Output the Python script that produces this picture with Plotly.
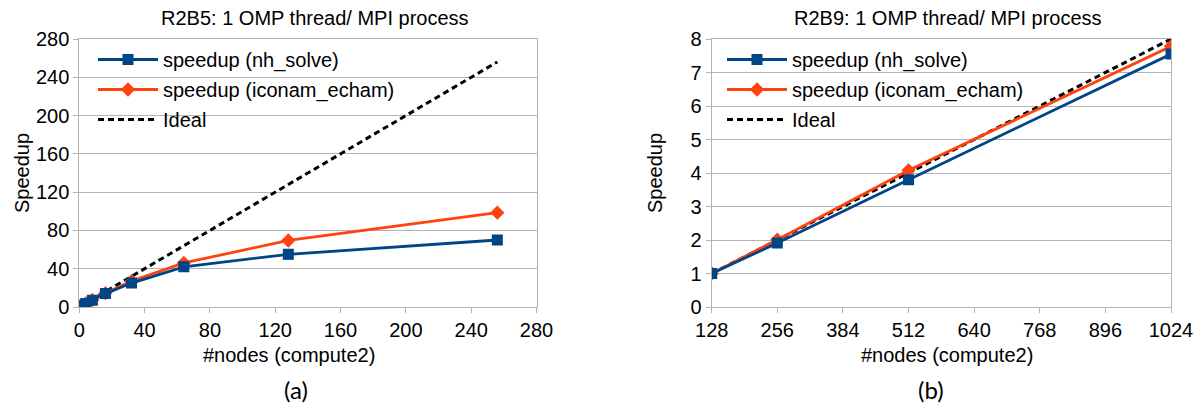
import plotly.graph_objects as go

# ---- data (a) R2B5 ----
nodes_a = [1, 2, 4, 8, 16, 32, 64, 128, 256]
nh_a = [1, 2, 3.6, 7, 14, 25, 42, 55, 70]
ic_a = [1, 2, 3.8, 7.3, 14.5, 27, 46, 69.5, 98.5]
ideal_a = [1, 2, 4, 8, 16, 32, 64, 128, 256]

# ---- data (b) R2B9 ----
nodes_b = [128, 256, 512, 1024]
nh_b = [1, 1.91, 3.8, 7.55]
ic_b = [1, 2.01, 4.08, 7.78]
ideal_b = [1, 2, 4, 8]

xticks_a = [0, 40, 80, 120, 160, 200, 240, 280]
yticks_a = [0, 40, 80, 120, 160, 200, 240, 280]
xticks_b = [128, 256, 384, 512, 640, 768, 896, 1024]
yticks_b = [0, 1, 2, 3, 4, 5, 6, 7, 8]

title_a = "R2B5: 1 OMP thread/ MPI process"
title_b = "R2B9: 1 OMP thread/ MPI process"
xtitle = "#nodes (compute2)"
ytitle = "Speedup"
names = ["speedup (nh_solve)", "speedup (iconam_echam)", "Ideal"]

BLUE = "#004586"
ORANGE = "#ff420e"
GRID = "#b3b3b3"
FONT = "Liberation Sans, Arial, sans-serif"
W, H = 1197, 406

fig = go.Figure()

def add_series(x, nh, ic, ideal, xa, ya, legend):
    fig.add_trace(go.Scatter(x=x, y=ideal, mode="lines", name=names[2],
                             line=dict(color="black", width=3, dash="6px,4px"),
                             xaxis=xa, yaxis=ya, legend=legend, legendrank=3,
                             legendgroup=legend + "c"))
    fig.add_trace(go.Scatter(x=x, y=ic, mode="lines+markers", name=names[1],
                             line=dict(color=ORANGE, width=2.8),
                             marker=dict(symbol="diamond", size=11, color=ORANGE),
                             xaxis=xa, yaxis=ya, legend=legend, legendrank=2,
                             legendgroup=legend + "b"))
    fig.add_trace(go.Scatter(x=x, y=nh, mode="lines+markers", name=names[0],
                             line=dict(color=BLUE, width=2.8),
                             marker=dict(symbol="square", size=11, color=BLUE),
                             xaxis=xa, yaxis=ya, legend=legend, legendrank=1,
                             legendgroup=legend + "a"))

add_series(nodes_a, nh_a, ic_a, ideal_a, "x", "y", "legend")
add_series(nodes_b, nh_b, ic_b, ideal_b, "x2", "y2", "legend2")

def px(x):
    return x / W

def py(y):
    return 1 - y / H

axis_common = dict(showline=True, mirror=True, linecolor=GRID, linewidth=1,
                   ticks="outside", ticklen=5, tickcolor=GRID,
                   tickfont=dict(size=20, color="#000000", family=FONT),
                   zeroline=False, automargin=False)

legend_common = dict(xanchor="left", yanchor="top", bgcolor="rgba(0,0,0,0)",
                     font=dict(size=20, family=FONT), itemwidth=60,
                     tracegroupgap=1, traceorder="grouped")

fig.update_layout(
    template="none",
    width=W, height=H,
    margin=dict(l=0, r=0, t=0, b=0, pad=0, autoexpand=False),
    paper_bgcolor="white", plot_bgcolor="white",
    font=dict(family=FONT, size=20, color="#000000"),
    xaxis=dict(domain=[px(79.3), px(536.5)], range=[0, 280], tickvals=xticks_a,
               showgrid=False, anchor="y", **axis_common),
    yaxis=dict(domain=[py(307), py(39)], range=[0, 280], tickvals=yticks_a,
               showgrid=True, gridcolor=GRID, gridwidth=1, anchor="x", **axis_common),
    xaxis2=dict(domain=[px(711.7), px(1171)], range=[128, 1024], tickvals=xticks_b,
                showgrid=False, anchor="y2", **axis_common),
    yaxis2=dict(domain=[py(307), py(39)], range=[0, 8], tickvals=yticks_b,
                showgrid=True, gridcolor=GRID, gridwidth=1, anchor="x2", **axis_common),
    legend=dict(x=px(93), y=py(40), **legend_common),
    legend2=dict(x=px(722), y=py(40), **legend_common),
)

ann = [
    dict(text=title_a, x=px(315), y=py(18), xanchor="center", yanchor="middle", font=dict(size=20)),
    dict(text=title_b, x=px(948), y=py(18), xanchor="center", yanchor="middle", font=dict(size=20)),
    dict(text=xtitle, x=px(289), y=py(355), xanchor="center", yanchor="middle", font=dict(size=20)),
    dict(text=xtitle, x=px(947), y=py(355), xanchor="center", yanchor="middle", font=dict(size=20)),
    dict(text=ytitle, x=px(22), y=py(173), xanchor="center", yanchor="middle", textangle=-90, font=dict(size=20)),
    dict(text=ytitle, x=px(655), y=py(173), xanchor="center", yanchor="middle", textangle=-90, font=dict(size=20)),
    dict(text="(a)", x=px(296), y=py(389), xanchor="center", yanchor="middle", font=dict(size=24, family="Lato, Carlito, sans-serif")),
    dict(text="(b)", x=px(931), y=py(389), xanchor="center", yanchor="middle", font=dict(size=24, family="Lato, Carlito, sans-serif")),
]
for a in ann:
    a.update(xref="paper", yref="paper", showarrow=False)
    fig.add_annotation(**a)

fig.write_html("out.html",
               config={"displayModeBar": False},
               post_script="document.body.style.margin='0px';document.body.style.padding='0px';")
